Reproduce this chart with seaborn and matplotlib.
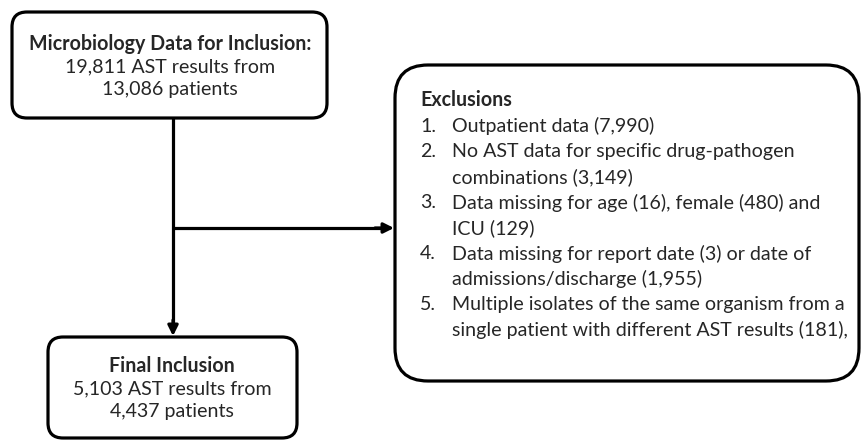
import matplotlib
matplotlib.use("Agg")
import matplotlib.pyplot as plt
import seaborn as sns
from matplotlib.patches import FancyBboxPatch

sns.set_theme(style="white")
plt.rcParams['font.family'] = ['Lato', 'DejaVu Sans']

# ---- content ----
top_title = "Microbiology Data for Inclusion:"
top_lines = ["19,811 AST results from", "13,086 patients"]
bottom_title = "Final Inclusion"
bottom_lines = ["5,103 AST results from", "4,437 patients"]
excl_title = "Exclusions"
excl_numbers = ["1.", "2.", "", "3.", "", "4.", "", "5.", ""]
excl_lines = [
    "Outpatient data (7,990)",
    "No AST data for specific drug-pathogen",
    "combinations (3,149)",
    "Data missing for age (16), female (480) and",
    "ICU (129)",
    "Data missing for report date (3) or date of",
    "admissions/discharge (1,955)",
    "Multiple isolates of the same organism from a",
    "single patient with different AST results (181),",
]

W, H = 861, 441
fig = plt.figure(figsize=(W / 100, H / 100), dpi=100)
ax = fig.add_axes([0, 0, 1, 1])
ax.set_xlim(0, W)
ax.set_ylim(H, 0)
ax.axis("off")

LW = 2.3
FS = 14.1

def rbox(x0, y0, x1, y1, r):
    p = FancyBboxPatch((x0 + r, y0 + r), (x1 - x0) - 2 * r, (y1 - y0) - 2 * r,
                       boxstyle=f"round,pad={r}", fc="white", ec="black", lw=LW,
                       zorder=2)
    ax.add_patch(p)

rbox(12, 12, 327, 118, 15)
rbox(48, 337, 297, 438, 15)
rbox(395, 65, 859, 381, 33)

# connectors
ax.plot([173, 173], [118, 329], color="black", lw=LW, zorder=1, solid_capstyle="butt")
ax.annotate("", xy=(173, 336), xytext=(173, 320),
            arrowprops=dict(arrowstyle="-|>,head_length=0.5,head_width=0.25",
                            color="black", lw=LW, shrinkA=0, shrinkB=0))
ax.plot([173, 385], [228, 228], color="black", lw=LW, zorder=1, solid_capstyle="butt")
ax.annotate("", xy=(394, 228), xytext=(375, 228),
            arrowprops=dict(arrowstyle="-|>,head_length=0.5,head_width=0.25",
                            color="black", lw=LW, shrinkA=0, shrinkB=0))

# top box text
ax.text(170, 44, top_title, ha="center", va="center", fontsize=FS, fontweight="bold", zorder=3)
for i, t in enumerate(top_lines):
    ax.text(170, 67 + 23 * i, t, ha="center", va="center", fontsize=FS, zorder=3)

# bottom box text
ax.text(172, 366, bottom_title, ha="center", va="center", fontsize=FS, fontweight="bold", zorder=3)
for i, t in enumerate(bottom_lines):
    ax.text(172, 389 + 23 * i, t, ha="center", va="center", fontsize=FS, zorder=3)

# exclusions text
ax.text(420, 100, excl_title, ha="left", va="center", fontsize=FS, fontweight="bold", zorder=3)
for i, (n, t) in enumerate(zip(excl_numbers, excl_lines)):
    y = 126 + 25.5 * i
    if n:
        ax.text(420, y, n, ha="left", va="center", fontsize=FS, zorder=3)
    ax.text(452, y, t, ha="left", va="center", fontsize=FS, zorder=3)

fig.savefig("out.png", dpi=100)
